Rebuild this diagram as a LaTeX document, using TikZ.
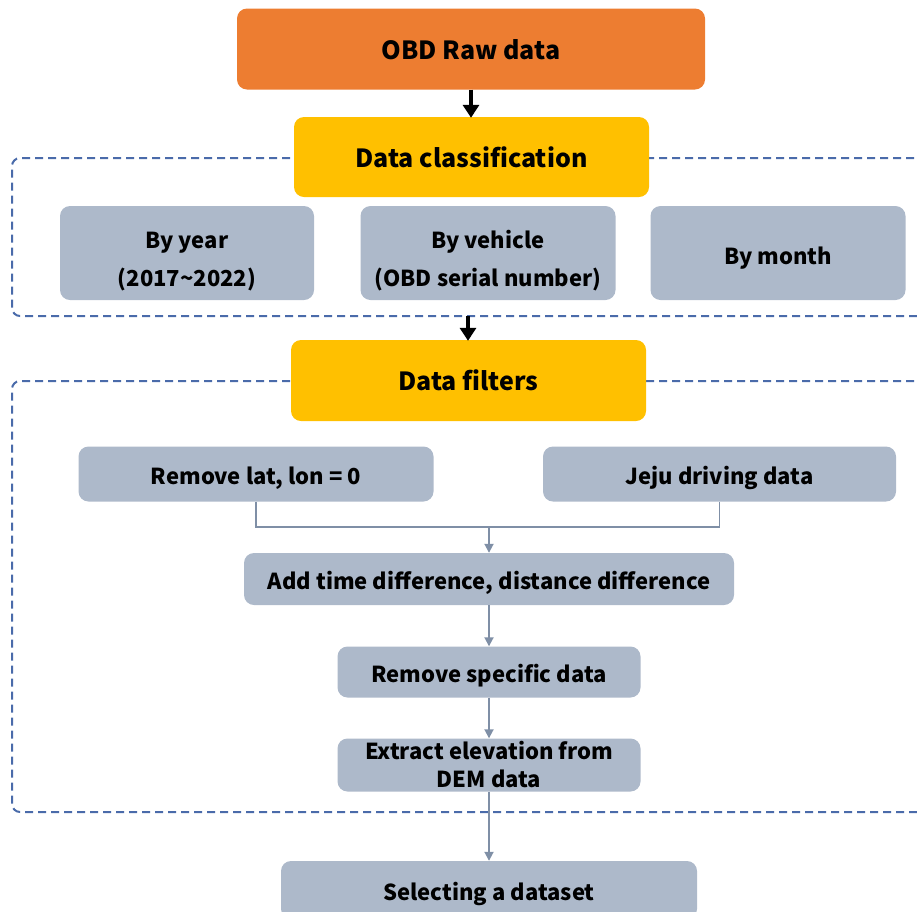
\documentclass[tikz,border=0pt]{standalone}
\usepackage{fontspec}
\setmainfont{Noto Sans CJK KR}
\usetikzlibrary{arrows.meta}
\definecolor{obdorange}{HTML}{ED7D31}
\definecolor{gold}{HTML}{FFC000}
\definecolor{boxgray}{HTML}{ADB9CA}
\definecolor{dashblue}{HTML}{4A6BAA}
\definecolor{linegray}{HTML}{7F8FA6}
\tikzset{
  box/.style={rounded corners=10pt, inner sep=0pt, align=center, text=black,
    font=\bfseries\fontsize{22}{28}\selectfont, text height=24pt, text depth=4pt},
  orangebox/.style={box, fill=obdorange, font=\bfseries\fontsize{25}{30}\selectfont, text height=25pt, text depth=5pt},
  goldbox/.style={box, fill=gold, font=\bfseries\fontsize{25}{30}\selectfont, text height=25pt, text depth=5pt},
  graybox/.style={box, fill=boxgray},
  twoline/.style={font=\bfseries\fontsize{22}{38}\selectfont, text height=70pt, text depth=4pt},
  grouprect/.style={draw=dashblue, line width=2pt, dash pattern=on 8pt off 5pt, rounded corners=8pt},
  blackarrow/.style={line width=4.5pt, -{Triangle[length=13pt,width=16pt]}, black, shorten >=-1pt},
  grayarrow/.style={line width=1.8pt, -{Triangle[length=9pt,width=9pt]}, linegray},
  grayline/.style={line width=1.8pt, linegray},
}
\begin{document}
\begin{tikzpicture}[x=1pt,y=-1pt]
\useasboundingbox (0,0) rectangle (917,911);
\clip (0,0) rectangle (917,911);
% dashed groups
\draw[grouprect] (940,158) -- (12,158) -- (12,316) -- (940,316);
\draw[grouprect] (940,381) -- (12,381) -- (12,812) -- (940,812);
% nodes
\node[orangebox, minimum width=468pt, minimum height=81pt] (obd) at (471,49) {OBD Raw data};
\node[goldbox, minimum width=355pt, minimum height=80pt] (dc) at (471.5,157) {Data classification};
\node[graybox, twoline, minimum width=254pt, minimum height=94pt] (year) at (187,253) {By year\\(2017\textasciitilde 2022)};
\node[graybox, twoline, minimum width=255pt, minimum height=94pt] (vehicle) at (488,253) {By vehicle\\(OBD serial number)};
\node[graybox, minimum width=255pt, minimum height=94pt, text height=25pt, text depth=2pt] (month) at (778,253) {By month};
\node[goldbox, minimum width=355pt, minimum height=81pt] (df) at (468.5,380.5) {Data filters};
\node[graybox, minimum width=355pt, minimum height=55pt] (rl) at (256,474) {Remove lat, lon = 0};
\node[graybox, minimum width=353pt, minimum height=55pt] (jeju) at (719.5,474) {Jeju driving data};
\node[graybox, minimum width=490pt, minimum height=52pt] (at) at (489,579) {Add time difference, distance difference};
\node[graybox, minimum width=303pt, minimum height=51pt] (rs) at (489,672) {Remove specific data};
\node[graybox, minimum width=303pt, minimum height=53pt, font=\bfseries\fontsize{22}{28}\selectfont, text height=48pt, text depth=4pt] (ex) at (489,765) {Extract elevation from\\DEM data};
\node[graybox, minimum width=416pt, minimum height=58pt] (sel) at (489,890) {Selecting a dataset};
% connectors
\coordinate (g1out) at (468,316);
\coordinate (merge) at (489,527);
\draw[blackarrow] (obd.south) -- (obd.south |- dc.north);
\draw[blackarrow] (g1out) -- (g1out |- df.north);
\draw[grayline] (rl.south) |- (merge) -| (jeju.south);
\draw[grayarrow] (merge) -- (at.north);
\draw[grayarrow] (at.south) -- (rs.north);
\draw[grayarrow] (rs.south) -- (ex.north);
\draw[grayarrow] (ex.south) -- (sel.north);
\end{tikzpicture}
\end{document}
